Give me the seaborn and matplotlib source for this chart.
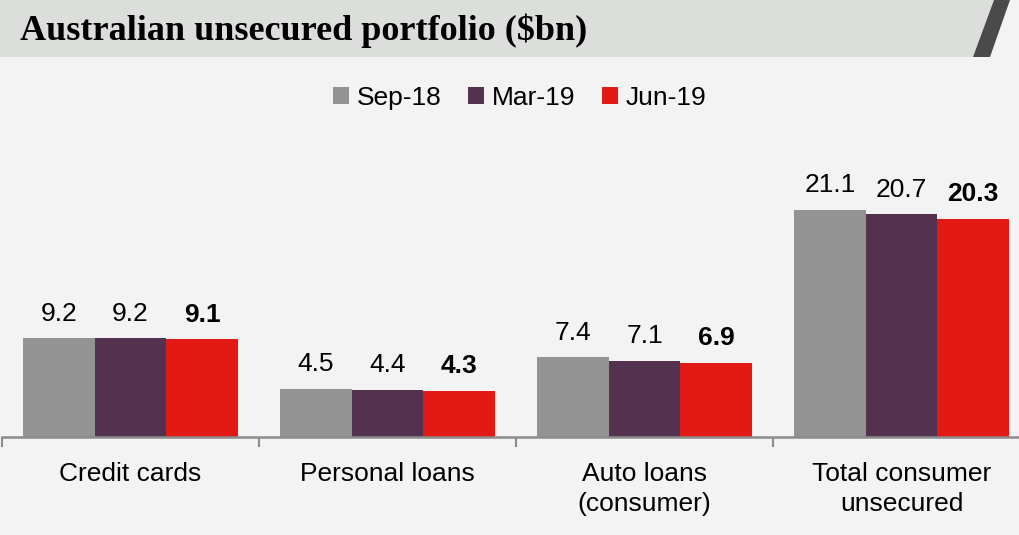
import pandas as pd
import seaborn as sns
import matplotlib.pyplot as plt
from matplotlib.patches import Polygon

categories = ['Credit cards', 'Personal loans', 'Auto loans\n(consumer)', 'Total consumer\nunsecured']
periods = ['Sep-18', 'Mar-19', 'Jun-19']
sep18 = [9.2, 4.5, 7.4, 21.1]
mar19 = [9.2, 4.4, 7.1, 20.7]
jun19 = [9.1, 4.3, 6.9, 20.3]

df = pd.DataFrame({
    'category': categories * 3,
    'period': [periods[0]] * 4 + [periods[1]] * 4 + [periods[2]] * 4,
    'value': sep18 + mar19 + jun19,
})
palette = {'Sep-18': '#939393', 'Mar-19': '#54314f', 'Jun-19': '#e31a14'}

sns.set_style('white')
plt.rcParams['font.family'] = ['Liberation Sans', 'DejaVu Sans']
plt.rcParams['text.color'] = 'black'
plt.rcParams['xtick.color'] = 'black'

W, H = 1020, 535
fig = plt.figure(figsize=(W / 100, H / 100), dpi=100, facecolor='#f3f3f3')

# title band with dark slanted end
def px(x, y):
    return (x / W, 1 - y / H)

band = Polygon([px(0, 0), px(994, 0), px(973, 57), px(0, 57)], closed=True,
               transform=fig.transFigure, facecolor='#dcdedb', edgecolor='none')
edge = Polygon([px(994, 0), px(1010, 0), px(990, 57), px(973, 57)], closed=True,
               transform=fig.transFigure, facecolor='#4a4a4a', edgecolor='none')
fig.patches.extend([band, edge])
fig.text(20 / W, 1 - 31 / H, 'Australian unsecured portfolio ($bn)', fontsize=26,
         fontweight='bold', family=['Liberation Serif', 'DejaVu Serif'],
         va='center', ha='left')

scale = 10.76  # px per unit
ymax = 25
ax = fig.add_axes([2 / W, (H - 437) / H, 1028 / W, ymax * scale / H])
ax.patch.set_alpha(0)

sns.barplot(data=df, x='category', y='value', hue='period', palette=palette,
            width=0.835, saturation=1, ax=ax, linewidth=0, legend=True)

for i, cont in enumerate(ax.containers):
    texts = ax.bar_label(cont, fmt='%.1f', padding=9, fontsize=19, color='black')
    if i == 2:
        for t in texts:
            t.set_fontweight('bold')

ax.set_xlim(-0.5, 3.5)
ax.set_ylim(0, ymax)
ax.set_xlabel('')
ax.set_ylabel('')
ax.set_yticks([])
for s in ['top', 'right', 'left']:
    ax.spines[s].set_visible(False)
ax.spines['bottom'].set_color('#8c8c8c')
ax.spines['bottom'].set_linewidth(1.8)
ax.set_xticks([-0.5, 0.5, 1.5, 2.5, 3.5], minor=True)
ax.tick_params(axis='x', which='minor', bottom=True, length=7, width=1.5,
               color='#8c8c8c', direction='out')
ax.tick_params(axis='x', which='major', length=0, pad=18, labelsize=19)
for lbl in ax.get_xticklabels():
    lbl.set_linespacing(1.3)

handles, labels = ax.get_legend_handles_labels()
ax.get_legend().remove()
fig.legend(handles, labels, loc='center', bbox_to_anchor=(520 / W, 1 - 98 / H),
           ncol=3, frameon=False, fontsize=19, handlelength=0.6, handleheight=0.6,
           handletextpad=0.3, columnspacing=1.0)

fig.savefig('out.png', dpi=100, facecolor=fig.get_facecolor())
